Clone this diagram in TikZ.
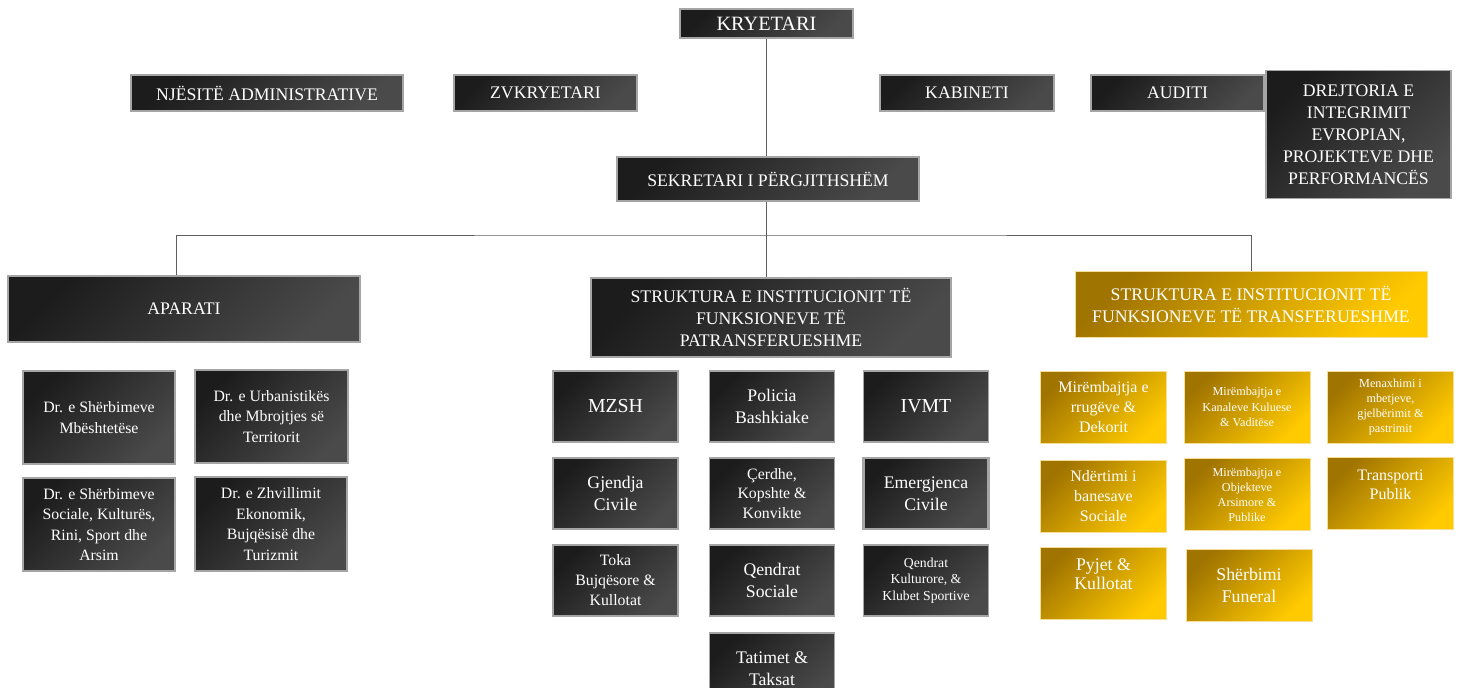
\documentclass[tikz,border=0pt]{standalone}
\usepackage{fontspec}
\setmainfont{Liberation Serif}

\begin{document}
\begin{tikzpicture}[x=1pt, y=-1pt]

\definecolor{darktop}{RGB}{28, 28, 28}
\definecolor{darkbot}{RGB}{74, 74, 74}
\definecolor{boxedge}{RGB}{165, 165, 165}
\definecolor{goldtop}{RGB}{160, 116, 0}
\definecolor{goldbot}{RGB}{255, 202, 0}
\definecolor{goldedge}{RGB}{246, 222, 150}
\definecolor{linkgray}{RGB}{95, 95, 95}

% Page frame
\useasboundingbox (0,0) rectangle (1459,688);
\clip (0,0) rectangle (1459,688);

\tikzset{
    dark block/.style 2 args={
        draw=boxedge, line width=1.5pt,
        top color=darktop, bottom color=darkbot, shading angle=45,
        rectangle, minimum width=#1, minimum height=#2, inner sep=0pt,
        text=white, align=center, font=\fontsize{17.7}{22}\selectfont
    },
    gold block/.style 2 args={
        draw=goldedge, line width=1pt,
        top color=goldtop, bottom color=goldbot, shading angle=45,
        rectangle, minimum width=#1, minimum height=#2, inner sep=0pt,
        text=white, align=center, font=\fontsize{17.7}{22}\selectfont
    },
    fs/.style 2 args={font=\fontsize{#1}{#2}\selectfont},
    lift/.style={text depth=#1},
    link/.style={draw=linkgray, line width=1pt}
}

% --- TOP LEVEL ---
\node[dark block={173}{29}, fs={20.3}{24}] (kry) at (766.5,23.5) {KRYETARI};
\node[dark block={272}{36}] (nje) at (267,93) {NJËSITË ADMINISTRATIVE};
\node[dark block={183}{36}] (zvk) at (545.5,93) {ZVKRYETARI};
\node[dark block={174}{36}] (kab) at (967,93) {KABINETI};
\node[dark block={173}{36}] (aud) at (1177.5,93) {AUDITI};
\node[dark block={185}{128}] (dre) at (1358.5,134.5) {DREJTORIA E\\INTEGRIMIT\\EVROPIAN,\\PROJEKTEVE DHE\\PERFORMANCËS};
\node[dark block={302}{44}] (sek) at (768,179) {SEKRETARI I PËRGJITHSHËM};

% --- BRANCHES ---
\node[dark block={352}{66}] (apa) at (184,309) {APARATI};
\node[dark block={360}{79}] (pat) at (771,317.5) {STRUKTURA E INSTITUCIONIT TË\\FUNKSIONEVE TË\\PATRANSFERUESHME};
\node[gold block={352}{66}] (tra) at (1251,304) {STRUKTURA E INSTITUCIONIT TË\\FUNKSIONEVE TË TRANSFERUESHME};

% Connectors (tree bus)
\coordinate (bus) at (766.5,235);
\draw[link] (kry.south) -- (kry.south |- sek.north);
\draw[link] (bus |- sek.south) -- (bus);
\draw[link] ([xshift=-8pt]apa.north) |- (bus) -| (tra.north);
\draw[link] (bus) -- (bus |- pat.north);

% --- APARATI directorates ---
\node[dark block={152}{93}, fs={15.8}{20.5}] (mbe) at (99,417.5) {Dr. e Shërbimeve\\Mbështetëse};
\node[dark block={153}{93}, fs={15.8}{20.5}] (urb) at (271.5,416.5) {Dr. e Urbanistikës\\dhe Mbrojtjes së\\Territorit};
\node[dark block={152}{93}, fs={15.8}{20.5}] (soc) at (99,524.5) {Dr. e Shërbimeve\\Sociale, Kulturës,\\Rini, Sport dhe\\Arsim};
\node[dark block={152}{94}, fs={15.8}{20.5}] (zhv) at (271,524) {Dr. e Zhvillimit\\Ekonomik,\\Bujqësisë dhe\\Turizmit};

% --- non-transferred functions ---
\node[dark block={125}{71}, fs={19.8}{22}] (mzsh) at (615.5,406.5) {MZSH};
\node[dark block={125}{71}, fs={17.7}{21.7}] (pol) at (772,406.5) {Policia\\Bashkiake};
\node[dark block={125}{71}, fs={19.8}{22}] (ivmt) at (926,406.5) {IVMT};
\node[dark block={125}{71}, fs={17.7}{21.7}] (gje) at (615.5,493.5) {Gjendja\\Civile};
\node[dark block={125}{71}, fs={15.8}{19.5}] (cer) at (772,493.5) {Çerdhe,\\Kopshte \&\\Konvikte};
\node[dark block={125}{71}, fs={17.7}{21.7}, line width=2.5pt] (eme) at (926,493.5) {Emergjenca\\Civile};
\node[dark block={125}{71}, fs={15.8}{20}] (tok) at (615.5,580.5) {Toka\\Bujqësore \&\\Kullotat};
\node[dark block={125}{71}, fs={17.7}{21.7}] (qso) at (772,580.5) {Qendrat\\Sociale};
\node[dark block={125}{71}, fs={13.7}{16.7}] (qku) at (926,580.5) {Qendrat\\Kulturore, \&\\Klubet Sportive};
\node[dark block={125}{71}, fs={17.7}{21.7}] (tat) at (772,668.5) {Tatimet \&\\Taksat};

% --- transferred functions ---
\node[gold block={126}{72}, fs={16}{20}] (mir) at (1103.5,407) {Mirëmbajtja e\\rrugëve \&\\Dekorit};
\node[gold block={126}{72}, fs={12.2}{15.2}] (kan) at (1247,407) {Mirëmbajtja e\\Kanaleve Kuluese\\\& Vaditëse};
\node[gold block={126}{72}, fs={12.2}{15}] (men) at (1390.5,407) {Menaxhimi i\\mbetjeve,\\gjelbërimit \&\\pastrimit};
\node[gold block={126}{72}, fs={16}{20}] (ndr) at (1103.5,496) {Ndërtimi i\\banesave\\Sociale};
\node[gold block={126}{72}, fs={12.2}{15}] (obj) at (1247,494.5) {Mirëmbajtja e\\Objekteve\\Arsimore \&\\Publike};
\node[gold block={126}{72}, fs={16}{18.6}, lift=18pt] (trp) at (1390.5,493.5) {Transporti\\Publik};
\node[gold block={126}{72}, fs={17.8}{18.6}, lift=18pt] (pyj) at (1103.5,583) {Pyjet \&\\Kullotat};
\node[gold block={126}{72}, fs={17.8}{22}] (fun) at (1249,585) {Shërbimi\\Funeral};

\end{tikzpicture}
\end{document}
